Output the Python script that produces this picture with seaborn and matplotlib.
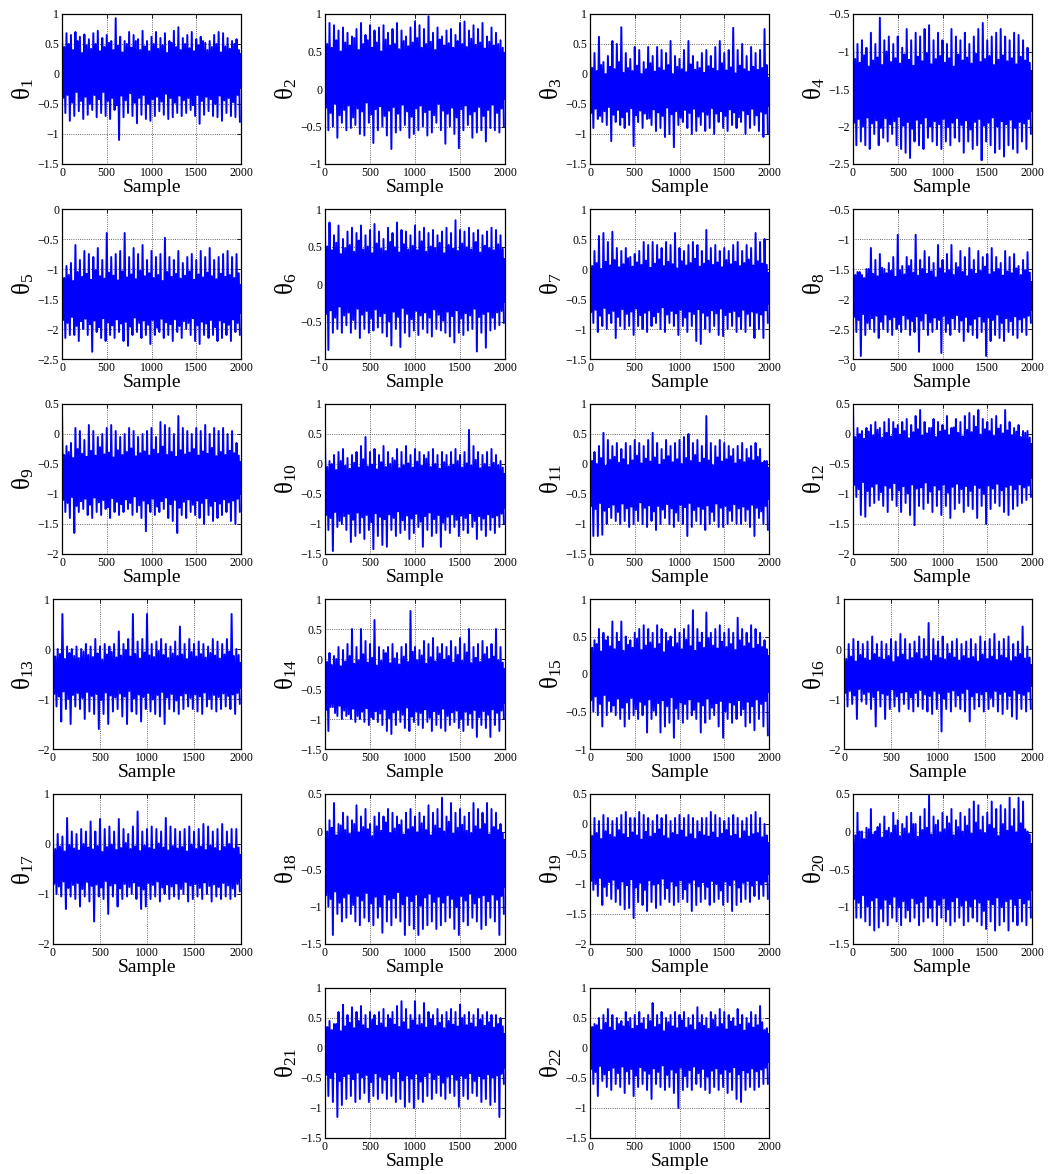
import numpy as np
import pandas as pd
import matplotlib
matplotlib.use("Agg")
import matplotlib.pyplot as plt
import seaborn as sns
from matplotlib.ticker import MultipleLocator, FuncFormatter

# Per 50-sample window of each MCMC trace, read (approximately) from the picture:
# hi = tallest upward spike, mh = secondary upward spike,
# ml = secondary downward spike, lo = deepest downward spike.
hi1 = [0.75,0.68,0.65,0.70,0.62,0.66,0.58,0.68,0.72,0.60,0.65,0.55,0.93,0.62,0.55,0.70,0.65,0.58,0.72,0.55,0.62,0.70,0.60,0.68,0.55,0.72,0.78,0.60,0.65,0.70,0.58,0.62,0.52,0.55,0.65,0.70,0.68,0.60,0.55,0.58]
lo1 = [-0.65,-0.78,-0.70,-0.62,-0.75,-0.68,-0.60,-0.72,-0.65,-0.70,-0.75,-0.60,-1.10,-0.72,-0.65,-0.70,-0.82,-0.68,-0.75,-0.78,-0.70,-0.62,-0.68,-0.75,-0.72,-0.65,-0.70,-0.65,-0.60,-0.70,-0.83,-0.68,-0.62,-0.70,-0.72,-0.78,-0.65,-0.70,-0.72,-0.80]
mh1 = [0.45,0.50,0.40,0.55,0.35,0.48,0.42,0.50,0.38,0.45,0.52,0.40,0.47,0.36,0.50,0.44,0.55,0.40,0.46,0.38,0.50,0.42,0.48,0.35,0.52,0.45,0.40,0.50,0.43,0.38,0.48,0.55,0.40,0.45,0.50,0.36,0.46,0.42,0.50,0.40]
ml1 = [-0.40,-0.35,-0.48,-0.30,-0.45,-0.38,-0.50,-0.35,-0.42,-0.30,-0.45,-0.40,-0.52,-0.36,-0.44,-0.32,-0.48,-0.40,-0.35,-0.50,-0.42,-0.38,-0.46,-0.33,-0.40,-0.48,-0.36,-0.44,-0.40,-0.52,-0.35,-0.45,-0.38,-0.42,-0.50,-0.36,-0.44,-0.40,-0.47,-0.35]
hi2 = [0.80,0.88,0.85,0.78,0.82,0.75,0.70,0.80,0.88,0.72,0.85,0.78,0.82,0.85,0.75,0.80,0.88,0.78,0.70,0.82,0.90,0.85,0.80,0.97,0.75,0.82,0.70,0.78,0.80,0.72,0.88,0.90,0.78,0.85,0.80,0.88,0.70,0.82,0.75,0.65]
lo2 = [-0.55,-0.50,-0.65,-0.45,-0.55,-0.52,-0.48,-0.60,-0.62,-0.45,-0.72,-0.55,-0.50,-0.62,-0.80,-0.58,-0.55,-0.48,-0.65,-0.60,-0.55,-0.50,-0.62,-0.58,-0.45,-0.55,-0.73,-0.50,-0.60,-0.79,-0.55,-0.48,-0.65,-0.58,-0.55,-0.70,-0.52,-0.55,-0.58,-0.50]
mh2 = [0.60,0.55,0.65,0.50,0.62,0.58,0.68,0.52,0.60,0.65,0.55,0.62,0.50,0.66,0.58,0.60,0.53,0.64,0.57,0.62,0.68,0.55,0.60,0.63,0.52,0.66,0.58,0.61,0.55,0.64,0.60,0.56,0.67,0.59,0.62,0.54,0.63,0.58,0.60,0.55]
ml2 = [-0.25,-0.32,-0.20,-0.35,-0.28,-0.22,-0.38,-0.26,-0.30,-0.18,-0.34,-0.27,-0.23,-0.36,-0.29,-0.24,-0.33,-0.21,-0.30,-0.37,-0.26,-0.22,-0.31,-0.28,-0.35,-0.20,-0.29,-0.33,-0.25,-0.38,-0.27,-0.22,-0.34,-0.30,-0.24,-0.36,-0.28,-0.21,-0.32,-0.26]
hi3 = [0.50,0.35,0.62,0.20,0.30,0.55,0.50,0.78,0.35,0.25,0.45,0.40,0.20,0.45,0.30,0.45,0.40,0.35,0.55,0.30,0.25,0.40,0.55,0.30,0.20,0.35,0.40,0.30,0.45,0.55,0.35,0.40,0.77,0.40,0.50,0.30,0.45,0.35,0.40,0.75]
lo3 = [-0.90,-0.75,-0.80,-0.85,-1.12,-0.80,-0.85,-0.90,-0.85,-1.20,-0.80,-0.90,-0.75,-0.85,-0.95,-0.90,-1.05,-1.00,-1.22,-0.85,-0.80,-0.90,-1.00,-0.95,-0.85,-0.95,-0.90,-1.00,-0.80,-0.90,-0.95,-0.85,-0.90,-0.80,-1.00,-0.90,-0.85,-0.95,-1.05,-1.00]
mh3 = [0.10,0.05,0.15,0.00,0.12,0.08,0.20,0.02,0.10,0.05,0.14,0.00,0.08,0.18,0.04,0.10,0.06,0.15,0.00,0.12,0.08,0.03,0.16,0.07,0.10,0.02,0.13,0.09,0.05,0.18,0.06,0.11,0.01,0.14,0.08,0.04,0.12,0.07,0.10,0.15]
ml3 = [-0.65,-0.58,-0.70,-0.62,-0.55,-0.68,-0.60,-0.72,-0.63,-0.57,-0.69,-0.61,-0.66,-0.74,-0.59,-0.64,-0.70,-0.56,-0.67,-0.62,-0.73,-0.60,-0.65,-0.58,-0.71,-0.63,-0.68,-0.57,-0.66,-0.62,-0.70,-0.59,-0.64,-0.72,-0.61,-0.67,-0.58,-0.69,-0.63,-0.66]
hi4 = [-0.78,-0.90,-0.85,-0.95,-0.75,-0.90,-0.55,-0.85,-0.80,-0.90,-0.80,-0.95,-0.70,-0.85,-0.75,-0.80,-0.70,-0.65,-0.85,-0.75,-0.85,-0.90,-0.70,-0.80,-0.85,-0.75,-0.90,-0.80,-0.70,-0.62,-0.85,-0.80,-0.75,-0.70,-0.80,-0.85,-0.75,-0.78,-0.85,-0.95]
lo4 = [-2.25,-2.20,-2.25,-2.30,-2.10,-2.25,-2.15,-2.20,-2.10,-2.25,-2.30,-2.35,-2.42,-2.20,-2.25,-2.30,-2.15,-2.20,-2.25,-2.30,-2.20,-2.25,-2.15,-2.20,-2.35,-2.20,-2.30,-2.25,-2.45,-2.20,-2.25,-2.35,-2.30,-2.40,-2.25,-2.30,-2.35,-2.20,-2.30,-2.10]
mh4 = [-1.10,-1.15,-1.05,-1.20,-1.12,-1.08,-1.18,-1.00,-1.14,-1.09,-1.16,-1.04,-1.11,-1.19,-1.07,-1.13,-1.02,-1.17,-1.10,-1.06,-1.15,-1.09,-1.20,-1.04,-1.12,-1.08,-1.16,-1.03,-1.14,-1.10,-1.06,-1.18,-1.11,-1.05,-1.13,-1.09,-1.17,-1.07,-1.12,-1.15]
ml4 = [-1.95,-1.90,-2.00,-1.88,-1.96,-1.92,-2.02,-1.89,-1.97,-1.93,-1.87,-1.99,-1.94,-2.03,-1.91,-1.96,-1.88,-2.00,-1.93,-1.97,-1.90,-2.01,-1.95,-1.89,-1.98,-1.92,-2.04,-1.94,-1.90,-1.99,-1.95,-1.88,-2.00,-1.93,-1.97,-1.91,-2.02,-1.94,-1.96,-1.90]
hi5 = [-1.05,-0.95,-0.90,-0.60,-0.85,-0.70,-0.75,-0.80,-0.65,-0.85,-0.40,-0.80,-0.75,-0.70,-0.40,-0.80,-0.65,-0.75,-0.60,-0.85,-0.70,-0.80,-0.75,-0.48,-0.80,-0.85,-0.70,-0.90,-0.80,-0.75,-0.85,-0.70,-0.80,-0.65,-0.85,-0.80,-0.75,-0.70,-0.80,-0.75]
lo5 = [-2.15,-2.10,-2.10,-2.20,-2.00,-2.10,-2.38,-2.05,-2.15,-2.20,-2.10,-2.15,-2.05,-2.20,-2.28,-2.10,-2.05,-2.15,-2.10,-2.25,-2.10,-2.05,-2.15,-2.10,-2.20,-2.05,-2.15,-2.00,-2.10,-2.20,-2.25,-2.10,-2.15,-2.10,-2.20,-2.15,-2.10,-2.20,-2.05,-2.10]
mh5 = [-1.15,-1.10,-1.20,-1.05,-1.13,-1.08,-1.18,-1.02,-1.12,-1.16,-1.06,-1.11,-1.19,-1.04,-1.14,-1.09,-1.17,-1.03,-1.12,-1.07,-1.15,-1.10,-1.20,-1.05,-1.13,-1.08,-1.16,-1.11,-1.04,-1.18,-1.09,-1.14,-1.06,-1.12,-1.17,-1.08,-1.13,-1.10,-1.15,-1.07]
ml5 = [-1.85,-1.90,-1.80,-1.95,-1.87,-1.83,-1.92,-1.86,-1.97,-1.82,-1.89,-1.94,-1.84,-1.91,-1.88,-1.96,-1.81,-1.90,-1.86,-1.93,-1.85,-1.98,-1.83,-1.89,-1.92,-1.84,-1.95,-1.87,-1.90,-1.82,-1.94,-1.88,-1.91,-1.85,-1.97,-1.86,-1.89,-1.93,-1.84,-1.90]
hi6 = [0.70,0.82,0.65,0.78,0.60,0.70,0.75,0.68,0.78,0.65,0.72,0.80,0.70,0.60,0.75,0.68,0.82,0.72,0.70,0.65,0.78,0.70,0.75,0.68,0.72,0.65,0.70,0.75,0.68,0.85,0.72,0.70,0.75,0.68,0.72,0.65,0.70,0.75,0.72,0.65]
lo6 = [-0.88,-0.65,-0.60,-0.65,-0.55,-0.65,-0.60,-0.72,-0.60,-0.65,-0.62,-0.58,-0.65,-0.70,-0.82,-0.60,-0.84,-0.65,-0.70,-0.62,-0.68,-0.60,-0.65,-0.70,-0.60,-0.62,-0.65,-0.70,-0.78,-0.65,-0.68,-0.62,-0.60,-0.90,-0.65,-0.85,-0.62,-0.60,-0.55,-0.52]
mh6 = [0.50,0.45,0.55,0.40,0.48,0.52,0.43,0.58,0.46,0.50,0.41,0.54,0.47,0.44,0.56,0.49,0.42,0.53,0.46,0.51,0.45,0.57,0.43,0.50,0.48,0.55,0.41,0.52,0.47,0.44,0.54,0.49,0.46,0.56,0.42,0.51,0.48,0.45,0.53,0.47]
ml6 = [-0.40,-0.35,-0.45,-0.30,-0.42,-0.38,-0.48,-0.33,-0.41,-0.36,-0.46,-0.34,-0.43,-0.39,-0.50,-0.37,-0.44,-0.32,-0.40,-0.47,-0.36,-0.42,-0.38,-0.45,-0.34,-0.41,-0.49,-0.37,-0.43,-0.35,-0.46,-0.39,-0.42,-0.33,-0.44,-0.40,-0.37,-0.45,-0.38,-0.36]
hi7 = [0.20,0.30,0.55,0.60,0.45,0.62,0.35,0.30,0.35,0.20,0.25,0.30,0.45,0.40,0.45,0.40,0.35,0.45,0.40,0.60,0.35,0.30,0.40,0.45,0.40,0.30,0.65,0.35,0.40,0.30,0.35,0.30,0.40,0.45,0.30,0.40,0.35,0.60,0.45,0.50]
lo7 = [-0.90,-1.05,-0.95,-1.00,-0.90,-1.15,-0.95,-1.00,-0.95,-1.10,-0.95,-1.00,-1.05,-0.95,-0.90,-1.00,-1.05,-0.90,-0.95,-1.10,-0.95,-1.05,-0.95,-1.20,-1.25,-1.00,-1.05,-0.95,-1.10,-1.12,-1.00,-0.95,-1.05,-1.00,-1.05,-0.95,-1.15,-1.00,-1.15,-0.90]
mh7 = [0.05,0.10,0.00,0.12,0.06,0.15,0.03,0.08,0.18,0.04,0.11,0.07,0.14,0.02,0.09,0.16,0.05,0.12,0.08,0.01,0.13,0.06,0.10,0.17,0.04,0.09,0.14,0.07,0.11,0.03,0.15,0.08,0.12,0.05,0.10,0.16,0.06,0.13,0.09,0.07]
ml7 = [-0.72,-0.68,-0.78,-0.65,-0.74,-0.70,-0.80,-0.67,-0.75,-0.71,-0.66,-0.77,-0.73,-0.69,-0.79,-0.72,-0.64,-0.76,-0.70,-0.74,-0.68,-0.81,-0.71,-0.75,-0.67,-0.73,-0.78,-0.69,-0.74,-0.66,-0.77,-0.72,-0.70,-0.79,-0.68,-0.75,-0.71,-0.73,-0.76,-0.69]
hi8 = [-1.40,-1.55,-1.60,-1.50,-1.15,-1.35,-1.25,-1.50,-1.40,-1.30,-0.93,-1.45,-1.30,-1.35,-0.93,-1.35,-1.20,-1.30,-1.40,-1.10,-1.35,-1.25,-1.10,-1.40,-1.20,-1.30,-1.15,-1.35,-1.20,-1.30,-1.25,-1.15,-1.30,-1.40,-1.20,-1.30,-1.25,-1.45,-1.35,-1.22]
lo8 = [-2.55,-2.95,-2.60,-2.50,-2.55,-2.65,-2.50,-2.55,-2.60,-2.50,-2.55,-2.50,-2.60,-2.55,-2.88,-2.50,-2.60,-2.55,-2.50,-2.90,-2.55,-2.60,-2.50,-2.55,-2.70,-2.55,-2.60,-2.65,-2.55,-2.95,-2.70,-2.60,-2.65,-2.70,-2.55,-2.60,-2.65,-2.55,-2.60,-2.40]
mh8 = [-1.60,-1.55,-1.65,-1.50,-1.58,-1.62,-1.48,-1.57,-1.53,-1.63,-1.52,-1.59,-1.45,-1.56,-1.61,-1.50,-1.58,-1.54,-1.64,-1.49,-1.57,-1.52,-1.60,-1.47,-1.55,-1.62,-1.51,-1.58,-1.53,-1.46,-1.59,-1.55,-1.50,-1.61,-1.54,-1.57,-1.49,-1.60,-1.52,-1.56]
ml8 = [-2.30,-2.35,-2.25,-2.40,-2.32,-2.28,-2.38,-2.26,-2.34,-2.30,-2.42,-2.27,-2.33,-2.37,-2.29,-2.36,-2.24,-2.39,-2.31,-2.35,-2.28,-2.41,-2.32,-2.27,-2.36,-2.30,-2.43,-2.33,-2.29,-2.38,-2.31,-2.35,-2.26,-2.40,-2.32,-2.37,-2.29,-2.34,-2.31,-2.28]
hi9 = [0.38,-0.20,-0.15,0.10,0.05,-0.10,0.15,0.05,-0.05,0.00,0.10,0.15,0.05,-0.05,0.00,0.10,0.05,-0.05,0.00,0.05,0.10,-0.05,0.20,0.15,0.10,0.00,0.30,0.10,0.05,0.00,0.10,0.05,0.15,0.00,0.10,0.05,0.10,0.00,0.05,-0.15]
lo9 = [-1.30,-1.40,-1.65,-1.30,-1.25,-1.35,-1.40,-1.30,-1.35,-1.25,-1.40,-1.30,-1.35,-1.30,-1.25,-1.35,-1.30,-1.40,-1.62,-1.30,-1.35,-1.30,-1.25,-1.40,-1.45,-1.65,-1.35,-1.40,-1.30,-1.35,-1.40,-1.50,-1.35,-1.45,-1.40,-1.35,-1.30,-1.45,-1.50,-1.30]
mh9 = [-0.35,-0.30,-0.40,-0.25,-0.33,-0.38,-0.28,-0.36,-0.22,-0.34,-0.31,-0.39,-0.27,-0.35,-0.30,-0.24,-0.37,-0.32,-0.29,-0.36,-0.26,-0.33,-0.21,-0.35,-0.30,-0.38,-0.27,-0.34,-0.31,-0.25,-0.36,-0.29,-0.33,-0.23,-0.37,-0.30,-0.35,-0.28,-0.32,-0.36]
ml9 = [-1.10,-1.15,-1.05,-1.20,-1.12,-1.08,-1.18,-1.06,-1.14,-1.10,-1.22,-1.07,-1.13,-1.17,-1.09,-1.15,-1.04,-1.19,-1.11,-1.16,-1.08,-1.21,-1.12,-1.06,-1.17,-1.10,-1.23,-1.13,-1.09,-1.18,-1.11,-1.15,-1.07,-1.20,-1.12,-1.16,-1.09,-1.14,-1.11,-1.08]
hi10 = [0.40,0.05,0.15,0.20,0.25,0.10,0.15,0.20,0.30,0.45,0.20,0.25,0.15,0.30,0.20,0.10,0.25,0.20,0.30,0.15,0.25,0.20,0.15,0.20,0.25,0.15,0.20,0.15,0.20,0.25,0.15,0.20,0.57,0.30,0.20,0.15,0.20,0.25,0.15,0.05]
lo10 = [-1.10,-1.45,-1.05,-1.00,-1.10,-1.30,-1.20,-1.15,-1.25,-1.10,-1.42,-1.20,-1.35,-1.38,-1.10,-1.20,-1.15,-1.10,-1.25,-1.15,-1.05,-1.38,-1.10,-1.20,-1.15,-1.38,-1.10,-1.15,-1.05,-1.20,-1.10,-1.15,-1.05,-1.25,-1.10,-1.20,-1.10,-1.15,-1.05,-1.00]
mh10 = [-0.05,0.00,-0.10,0.05,-0.03,-0.08,0.02,-0.06,0.08,-0.04,-0.01,-0.09,0.03,-0.05,0.00,0.06,-0.07,-0.02,0.01,-0.06,0.04,-0.03,0.09,-0.05,0.00,-0.08,0.03,-0.04,-0.01,0.05,-0.06,0.01,-0.03,0.07,-0.07,0.00,-0.05,0.02,-0.02,-0.06]
ml10 = [-0.85,-0.90,-0.80,-0.95,-0.87,-0.83,-0.93,-0.81,-0.89,-0.85,-0.97,-0.82,-0.88,-0.92,-0.84,-0.90,-0.79,-0.94,-0.86,-0.91,-0.83,-0.96,-0.87,-0.81,-0.92,-0.85,-0.98,-0.88,-0.84,-0.93,-0.86,-0.90,-0.82,-0.95,-0.87,-0.91,-0.84,-0.89,-0.86,-0.83]
hi11 = [0.25,0.20,0.30,0.52,0.40,0.30,0.35,0.25,0.35,0.30,0.40,0.35,0.30,0.40,0.52,0.35,0.25,0.40,0.30,0.35,0.40,0.45,0.50,0.35,0.40,0.30,0.80,0.35,0.30,0.40,0.35,0.30,0.25,0.30,0.35,0.25,0.30,0.35,0.25,0.05]
lo11 = [-1.20,-1.20,-1.18,-1.00,-0.90,-0.95,-1.00,-0.95,-1.05,-1.00,-0.95,-1.00,-1.05,-0.95,-1.10,-1.00,-0.90,-1.00,-1.05,-0.95,-1.00,-1.20,-1.05,-0.95,-1.00,-1.10,-1.00,-0.95,-1.05,-1.05,-1.00,-0.95,-1.00,-1.00,-0.95,-1.05,-1.20,-0.90,-1.00,-1.10]
mh11 = [0.05,0.00,0.10,-0.03,0.07,0.12,0.02,0.08,-0.02,0.06,0.14,0.01,0.09,0.04,0.11,-0.01,0.07,0.13,0.03,0.08,0.00,0.10,0.05,0.15,0.02,0.09,0.06,-0.02,0.11,0.04,0.08,0.13,0.01,0.07,0.03,0.10,0.06,0.12,0.02,0.05]
ml11 = [-0.70,-0.75,-0.65,-0.78,-0.72,-0.68,-0.80,-0.66,-0.74,-0.71,-0.77,-0.64,-0.73,-0.69,-0.79,-0.70,-0.76,-0.67,-0.74,-0.81,-0.68,-0.72,-0.65,-0.77,-0.71,-0.75,-0.69,-0.80,-0.66,-0.73,-0.70,-0.78,-0.67,-0.74,-0.71,-0.76,-0.68,-0.73,-0.79,-0.70]
hi12 = [0.48,0.10,0.05,0.10,0.15,0.20,0.10,0.20,0.25,0.20,0.15,0.20,0.25,0.15,0.30,0.40,0.20,0.10,0.25,0.20,0.15,0.30,0.10,0.25,0.20,0.30,0.35,0.30,0.40,0.25,0.20,0.25,0.30,0.15,0.40,0.20,0.10,0.15,0.05,0.05]
lo12 = [-1.05,-1.35,-1.38,-1.20,-1.15,-1.10,-1.20,-1.30,-1.10,-1.20,-1.30,-1.15,-1.35,-1.52,-1.20,-1.25,-1.15,-1.30,-1.20,-1.35,-1.20,-1.40,-1.25,-1.15,-1.30,-1.20,-1.25,-1.40,-1.20,-1.50,-1.25,-1.15,-1.20,-1.30,-1.35,-1.25,-1.20,-1.15,-1.10,-1.05]
mh12 = [-0.05,0.00,-0.08,0.04,-0.02,0.07,-0.06,0.02,-0.04,0.09,-0.01,0.05,-0.07,0.03,0.08,-0.03,0.01,0.10,-0.05,0.04,0.06,-0.02,0.11,0.02,-0.04,0.07,0.03,0.12,-0.01,0.08,0.05,-0.03,0.09,0.01,0.06,-0.02,0.04,-0.05,0.02,-0.06]
ml12 = [-0.85,-0.92,-0.80,-0.95,-0.88,-0.83,-0.97,-0.86,-0.90,-0.82,-0.94,-0.87,-0.99,-0.84,-0.91,-0.89,-0.81,-0.96,-0.86,-0.93,-0.84,-0.98,-0.88,-0.83,-0.92,-0.87,-0.95,-0.85,-0.90,-1.00,-0.86,-0.91,-0.83,-0.94,-0.88,-0.85,-0.92,-0.84,-0.89,-0.86]
hi13 = [0.22,0.00,0.70,0.05,0.00,0.05,0.00,0.10,0.05,0.20,0.05,0.10,0.05,0.10,0.35,0.10,0.20,0.70,0.15,0.20,0.70,0.10,0.15,0.20,0.10,0.05,0.15,0.45,0.10,0.20,0.10,0.15,0.10,0.05,0.20,0.15,0.10,0.20,0.70,0.00]
lo13 = [-1.15,-1.45,-1.20,-1.50,-1.15,-1.20,-1.40,-1.25,-1.30,-1.60,-1.30,-1.50,-1.25,-1.20,-1.35,-1.50,-1.25,-1.30,-1.45,-1.20,-1.25,-1.30,-1.35,-1.50,-1.20,-1.25,-1.30,-1.20,-1.15,-1.20,-1.25,-1.30,-1.15,-1.20,-1.25,-1.20,-1.15,-1.20,-1.30,-1.10]
mh13 = [-0.15,-0.10,-0.20,-0.08,-0.14,-0.18,-0.05,-0.12,-0.16,-0.09,-0.21,-0.11,-0.06,-0.17,-0.13,-0.02,-0.15,-0.10,-0.19,-0.07,-0.13,-0.16,-0.04,-0.12,-0.18,-0.09,-0.14,-0.11,-0.20,-0.06,-0.15,-0.10,-0.17,-0.08,-0.13,-0.19,-0.11,-0.05,-0.14,-0.12]
ml13 = [-0.90,-0.95,-0.85,-1.00,-0.92,-0.88,-0.98,-0.86,-0.94,-0.90,-1.02,-0.87,-0.93,-0.97,-0.89,-0.95,-0.84,-0.99,-0.91,-0.96,-0.88,-1.01,-0.92,-0.86,-0.97,-0.90,-1.03,-0.93,-0.89,-0.98,-0.91,-0.95,-0.87,-1.00,-0.92,-0.96,-0.89,-0.94,-0.91,-0.88]
hi14 = [0.10,0.10,0.05,0.20,0.15,0.25,0.50,0.20,0.50,0.30,0.25,0.65,0.20,0.15,0.20,0.25,0.10,0.20,0.25,0.80,0.20,0.15,0.30,0.25,0.35,0.20,0.25,0.20,0.30,0.20,0.35,0.25,0.50,0.20,0.25,0.30,0.20,0.25,0.50,0.20]
lo14 = [-1.20,-0.80,-0.95,-1.00,-0.95,-1.00,-1.05,-1.00,-1.05,-1.10,-1.00,-1.05,-1.10,-1.20,-1.25,-1.10,-1.05,-1.15,-1.20,-1.05,-1.10,-1.15,-1.05,-1.20,-1.10,-1.15,-1.20,-1.10,-1.05,-1.15,-1.20,-1.10,-1.15,-1.30,-1.10,-1.15,-1.30,-1.10,-1.20,-1.00]
mh14 = [-0.05,-0.10,0.00,-0.12,-0.04,0.05,-0.08,-0.02,0.08,-0.06,0.02,-0.11,-0.03,0.10,-0.07,0.01,-0.09,0.04,-0.05,0.12,-0.02,0.06,-0.08,0.03,-0.04,0.09,-0.01,0.05,-0.06,0.07,-0.03,0.11,-0.07,0.02,-0.05,0.08,0.00,0.04,-0.02,-0.06]
ml14 = [-0.85,-0.80,-0.90,-0.78,-0.86,-0.92,-0.83,-0.95,-0.88,-0.82,-0.97,-0.87,-0.91,-0.84,-0.99,-0.89,-0.85,-0.93,-0.81,-0.96,-0.88,-0.90,-0.84,-0.98,-0.87,-0.92,-0.83,-0.95,-0.89,-0.86,-1.00,-0.88,-0.91,-0.85,-0.97,-0.87,-0.93,-0.84,-0.90,-0.86]
hi15 = [0.55,0.45,0.60,0.55,0.50,0.70,0.55,0.70,0.50,0.45,0.55,0.60,0.65,0.60,0.55,0.65,0.60,0.55,0.50,0.60,0.55,0.60,0.65,0.85,0.60,0.55,0.82,0.55,0.60,0.65,0.55,0.60,0.55,0.75,0.60,0.55,0.65,0.60,0.55,0.45]
lo15 = [-0.50,-0.55,-0.70,-0.55,-0.50,-0.55,-0.60,-0.70,-0.60,-0.55,-0.60,-0.55,-0.78,-0.60,-0.55,-0.78,-0.70,-0.65,-0.85,-0.60,-0.65,-0.60,-0.55,-0.60,-0.78,-0.65,-0.60,-0.55,-0.70,-0.85,-0.60,-0.65,-0.60,-0.55,-0.70,-0.65,-0.75,-0.60,-0.70,-0.82]
mh15 = [0.35,0.40,0.30,0.45,0.37,0.33,0.43,0.31,0.39,0.35,0.47,0.32,0.38,0.42,0.34,0.40,0.29,0.44,0.36,0.41,0.33,0.46,0.37,0.31,0.42,0.35,0.48,0.38,0.34,0.43,0.36,0.40,0.32,0.45,0.37,0.41,0.34,0.39,0.36,0.33]
ml15 = [-0.35,-0.30,-0.40,-0.28,-0.36,-0.42,-0.33,-0.45,-0.38,-0.32,-0.47,-0.37,-0.41,-0.34,-0.49,-0.39,-0.35,-0.43,-0.31,-0.46,-0.38,-0.40,-0.34,-0.48,-0.37,-0.42,-0.33,-0.45,-0.39,-0.36,-0.50,-0.38,-0.41,-0.35,-0.47,-0.37,-0.43,-0.34,-0.40,-0.36]
hi16 = [-0.05,0.10,0.20,0.15,0.10,0.15,0.25,0.10,0.15,0.10,0.20,0.15,0.30,0.20,0.10,0.15,0.25,0.20,0.52,0.20,0.15,0.25,0.10,0.15,0.20,0.10,0.15,0.20,0.10,0.25,0.15,0.20,0.30,0.15,0.20,0.25,0.10,0.15,0.45,0.05]
lo16 = [-1.15,-1.10,-1.40,-1.05,-1.10,-1.20,-1.55,-1.15,-1.40,-1.20,-1.15,-1.25,-1.10,-1.20,-1.25,-1.15,-1.20,-1.25,-1.30,-1.20,-1.65,-1.20,-1.25,-1.15,-1.20,-1.25,-1.45,-1.20,-1.15,-1.25,-1.20,-1.15,-1.25,-1.30,-1.20,-1.35,-1.40,-1.20,-1.25,-1.20]
mh16 = [-0.20,-0.15,-0.25,-0.12,-0.19,-0.23,-0.10,-0.17,-0.21,-0.14,-0.26,-0.16,-0.11,-0.22,-0.18,-0.08,-0.20,-0.15,-0.24,-0.13,-0.18,-0.21,-0.09,-0.17,-0.23,-0.14,-0.19,-0.16,-0.25,-0.11,-0.20,-0.15,-0.22,-0.13,-0.18,-0.24,-0.16,-0.10,-0.19,-0.17]
ml16 = [-0.88,-0.84,-0.93,-0.80,-0.90,-0.86,-0.96,-0.83,-0.89,-0.92,-0.81,-0.95,-0.87,-0.85,-0.97,-0.88,-0.82,-0.91,-0.94,-0.84,-0.89,-0.99,-0.86,-0.83,-0.93,-0.88,-0.80,-0.95,-0.87,-0.91,-0.85,-0.98,-0.84,-0.90,-0.86,-0.94,-0.82,-0.89,-0.92,-0.85]
hi17 = [0.05,0.20,0.15,0.52,0.25,0.20,0.30,0.25,0.45,0.25,0.50,0.30,0.35,0.25,0.50,0.30,0.20,0.35,0.65,0.25,0.30,0.35,0.30,0.25,0.52,0.35,0.30,0.25,0.30,0.35,0.25,0.30,0.40,0.35,0.25,0.30,0.40,0.25,0.30,0.30]
lo17 = [-1.00,-1.05,-1.30,-1.05,-1.10,-1.25,-1.05,-1.15,-1.55,-1.05,-1.10,-1.40,-1.05,-1.25,-1.10,-1.05,-1.00,-1.10,-1.30,-1.25,-1.10,-1.05,-1.15,-1.00,-1.10,-1.05,-1.10,-1.00,-1.15,-1.10,-1.05,-1.10,-1.00,-1.15,-1.05,-1.10,-1.05,-1.10,-1.05,-0.95]
mh17 = [-0.10,-0.05,-0.15,-0.02,-0.09,-0.13,0.00,-0.07,-0.11,-0.04,-0.16,-0.06,-0.01,-0.12,-0.08,0.02,-0.10,-0.05,-0.14,-0.03,-0.08,-0.11,0.01,-0.07,-0.13,-0.04,-0.09,-0.06,-0.15,-0.01,-0.10,-0.05,-0.12,-0.03,-0.08,-0.14,-0.06,0.00,-0.09,-0.07]
ml17 = [-0.80,-0.85,-0.75,-0.88,-0.82,-0.78,-0.90,-0.76,-0.84,-0.81,-0.87,-0.74,-0.83,-0.79,-0.89,-0.80,-0.86,-0.77,-0.84,-0.91,-0.78,-0.82,-0.75,-0.87,-0.81,-0.85,-0.79,-0.90,-0.76,-0.83,-0.80,-0.88,-0.77,-0.84,-0.81,-0.86,-0.78,-0.83,-0.89,-0.80]
hi18 = [0.20,0.15,0.38,0.10,0.25,0.20,0.15,0.35,0.20,0.30,0.10,0.20,0.25,0.20,0.30,0.25,0.20,0.15,0.25,0.30,0.20,0.25,0.20,0.35,0.25,0.30,0.45,0.20,0.38,0.25,0.30,0.20,0.25,0.38,0.30,0.25,0.38,0.30,0.25,0.10]
lo18 = [-1.00,-1.38,-1.10,-1.20,-1.15,-1.10,-1.20,-1.25,-1.15,-1.20,-1.25,-1.15,-1.35,-1.20,-1.25,-1.15,-1.20,-1.38,-1.25,-1.30,-1.38,-1.30,-1.25,-1.20,-1.30,-1.25,-1.20,-1.15,-1.30,-1.38,-1.20,-1.25,-1.15,-1.20,-1.30,-1.25,-1.15,-1.20,-1.38,-1.10]
mh18 = [0.00,0.05,-0.05,0.08,0.02,-0.03,0.10,-0.01,0.06,0.03,-0.06,0.07,0.01,0.12,-0.02,0.04,0.09,-0.04,0.03,0.06,-0.01,0.11,0.02,-0.05,0.08,0.04,0.00,0.13,-0.03,0.05,0.09,0.01,-0.02,0.07,0.03,0.10,-0.04,0.06,0.02,-0.02]
ml18 = [-0.85,-0.90,-0.80,-0.95,-0.88,-0.83,-0.98,-0.86,-0.92,-0.82,-0.96,-0.87,-1.00,-0.84,-0.91,-0.89,-0.81,-0.97,-0.86,-0.93,-0.84,-0.99,-0.88,-0.83,-0.94,-0.87,-0.95,-0.85,-0.90,-1.01,-0.86,-0.92,-0.83,-0.96,-0.88,-0.85,-0.93,-0.84,-0.91,-0.86]
hi19 = [0.20,0.10,0.05,0.15,0.10,0.05,0.10,0.15,0.20,0.10,0.10,0.20,0.15,0.10,0.05,0.15,0.10,0.15,0.05,0.10,0.15,0.10,0.15,0.10,0.05,0.10,0.10,0.20,0.15,0.10,0.05,0.10,0.15,0.10,0.05,0.10,0.15,0.20,0.10,0.00]
lo19 = [-1.10,-1.20,-1.35,-1.20,-1.25,-1.30,-1.35,-1.42,-1.40,-1.57,-1.30,-1.35,-1.45,-1.30,-1.40,-1.35,-1.25,-1.30,-1.35,-1.30,-1.25,-1.30,-1.45,-1.35,-1.30,-1.25,-1.35,-1.30,-1.25,-1.35,-1.30,-1.45,-1.35,-1.30,-1.25,-1.30,-1.20,-1.25,-1.20,-1.25]
mh19 = [-0.20,-0.15,-0.25,-0.12,-0.18,-0.22,-0.10,-0.17,-0.23,-0.14,-0.19,-0.26,-0.13,-0.21,-0.16,-0.09,-0.20,-0.24,-0.15,-0.18,-0.11,-0.22,-0.17,-0.25,-0.13,-0.19,-0.21,-0.14,-0.23,-0.16,-0.10,-0.20,-0.18,-0.24,-0.12,-0.21,-0.17,-0.15,-0.22,-0.19]
ml19 = [-0.95,-1.00,-0.90,-1.05,-0.97,-0.93,-1.08,-0.96,-1.02,-0.92,-1.06,-0.98,-1.10,-0.94,-1.01,-0.99,-0.91,-1.07,-0.96,-1.03,-0.94,-1.09,-0.98,-0.93,-1.04,-0.97,-1.05,-0.95,-1.00,-1.11,-0.96,-1.02,-0.93,-1.06,-0.98,-0.95,-1.03,-0.94,-1.01,-0.96]
hi20 = [-0.10,0.25,0.00,0.05,0.30,0.00,0.10,0.20,0.05,0.25,0.15,0.10,0.20,0.25,0.10,0.20,0.30,0.48,0.20,0.15,0.25,0.20,0.30,0.15,0.25,0.20,0.30,0.40,0.35,0.20,0.25,0.40,0.30,0.35,0.30,0.45,0.30,0.45,0.40,0.00]
lo20 = [-1.15,-1.15,-1.20,-1.25,-1.32,-1.28,-1.20,-1.25,-1.15,-1.20,-1.25,-1.15,-1.20,-1.15,-1.25,-1.20,-1.15,-1.20,-1.25,-1.15,-1.20,-1.25,-1.20,-1.15,-1.25,-1.20,-1.15,-1.20,-1.25,-1.30,-1.20,-1.32,-1.25,-1.20,-1.32,-1.20,-1.25,-1.20,-1.25,-1.15]
mh20 = [-0.05,0.00,-0.10,0.03,-0.04,0.06,-0.08,0.01,-0.02,0.08,-0.06,0.04,-0.03,0.10,-0.07,0.02,0.05,-0.04,0.09,-0.01,0.03,0.11,-0.05,0.06,0.00,0.08,-0.03,0.12,0.02,-0.02,0.09,0.04,-0.06,0.10,0.01,0.07,-0.01,0.11,0.03,-0.04]
ml20 = [-0.90,-0.95,-0.85,-1.00,-0.92,-0.88,-1.03,-0.91,-0.97,-0.87,-1.01,-0.93,-1.05,-0.89,-0.96,-0.94,-0.86,-1.02,-0.91,-0.98,-0.89,-1.04,-0.93,-0.88,-0.99,-0.92,-1.00,-0.90,-0.95,-1.06,-0.91,-0.97,-0.88,-1.01,-0.93,-0.90,-0.98,-0.89,-0.96,-0.91]
hi21 = [0.40,0.45,0.40,0.60,0.72,0.55,0.68,0.60,0.70,0.55,0.60,0.55,0.60,0.65,0.55,0.60,0.70,0.78,0.65,0.55,0.78,0.55,0.75,0.60,0.55,0.65,0.55,0.60,0.65,0.60,0.72,0.55,0.60,0.55,0.65,0.55,0.60,0.55,0.55,0.50]
lo21 = [-0.80,-0.90,-1.15,-0.95,-0.85,-0.80,-0.90,-0.85,-0.75,-0.90,-0.80,-0.85,-0.75,-0.85,-0.80,-0.90,-0.85,-0.98,-0.90,-1.00,-0.85,-0.90,-0.80,-0.85,-0.75,-0.80,-0.85,-0.75,-0.80,-0.98,-0.80,-0.85,-0.75,-0.80,-0.90,-0.85,-0.95,-0.90,-1.15,-0.60]
mh21 = [0.35,0.30,0.40,0.28,0.36,0.42,0.33,0.45,0.38,0.32,0.47,0.37,0.41,0.34,0.49,0.39,0.35,0.43,0.31,0.46,0.38,0.40,0.34,0.48,0.37,0.42,0.33,0.45,0.39,0.36,0.50,0.38,0.41,0.35,0.47,0.37,0.43,0.34,0.40,0.36]
ml21 = [-0.45,-0.50,-0.40,-0.55,-0.47,-0.43,-0.52,-0.41,-0.49,-0.45,-0.57,-0.42,-0.48,-0.53,-0.44,-0.50,-0.39,-0.54,-0.46,-0.51,-0.43,-0.56,-0.47,-0.41,-0.52,-0.45,-0.58,-0.48,-0.44,-0.53,-0.46,-0.50,-0.42,-0.55,-0.47,-0.51,-0.44,-0.49,-0.46,-0.43]
hi22 = [0.45,0.40,0.50,0.55,0.65,0.55,0.50,0.45,0.60,0.50,0.55,0.60,0.50,0.55,0.75,0.55,0.60,0.50,0.55,0.60,0.55,0.60,0.50,0.55,0.68,0.55,0.50,0.60,0.55,0.65,0.60,0.55,0.50,0.65,0.55,0.50,0.60,0.55,0.70,0.30]
lo22 = [-0.60,-0.80,-0.55,-0.65,-0.70,-0.60,-0.65,-0.75,-0.60,-0.80,-0.65,-0.60,-0.70,-0.85,-0.60,-0.65,-0.70,-0.65,-0.75,-1.00,-0.70,-0.65,-0.70,-0.60,-0.65,-0.70,-0.75,-0.65,-0.70,-0.65,-0.75,-0.70,-0.85,-0.90,-0.70,-0.65,-0.70,-0.65,-0.60,-0.60]
mh22 = [0.35,0.38,0.30,0.42,0.34,0.29,0.40,0.36,0.44,0.32,0.37,0.41,0.31,0.45,0.35,0.39,0.28,0.43,0.36,0.33,0.46,0.34,0.38,0.30,0.42,0.37,0.32,0.47,0.35,0.40,0.31,0.44,0.36,0.39,0.29,0.41,0.34,0.38,0.43,0.33]
ml22 = [-0.35,-0.40,-0.30,-0.44,-0.37,-0.33,-0.42,-0.31,-0.39,-0.35,-0.46,-0.32,-0.38,-0.43,-0.34,-0.40,-0.29,-0.45,-0.36,-0.41,-0.33,-0.47,-0.37,-0.31,-0.42,-0.35,-0.48,-0.38,-0.34,-0.43,-0.36,-0.40,-0.32,-0.44,-0.37,-0.41,-0.34,-0.39,-0.36,-0.33]

highs = [hi1, hi2, hi3, hi4, hi5, hi6, hi7, hi8, hi9, hi10, hi11,
         hi12, hi13, hi14, hi15, hi16, hi17, hi18, hi19, hi20, hi21, hi22]
lows = [lo1, lo2, lo3, lo4, lo5, lo6, lo7, lo8, lo9, lo10, lo11,
        lo12, lo13, lo14, lo15, lo16, lo17, lo18, lo19, lo20, lo21, lo22]
mid_highs = [mh1, mh2, mh3, mh4, mh5, mh6, mh7, mh8, mh9, mh10, mh11,
             mh12, mh13, mh14, mh15, mh16, mh17, mh18, mh19, mh20, mh21, mh22]
mid_lows = [ml1, ml2, ml3, ml4, ml5, ml6, ml7, ml8, ml9, ml10, ml11,
            ml12, ml13, ml14, ml15, ml16, ml17, ml18, ml19, ml20, ml21, ml22]

# Innermost, fully solid part of each trace.
dense_lo = [-0.25, -0.15, -0.55, -1.80, -1.75, -0.25, -0.60, -2.20, -1.00, -0.75, -0.60,
            -0.75, -0.80, -0.75, -0.25, -0.75, -0.70, -0.75, -0.85, -0.80, -0.35, -0.25]
dense_hi = [0.35, 0.50, -0.05, -1.25, -1.25, 0.35, -0.05, -1.70, -0.45, -0.15, -0.05,
            -0.15, -0.25, -0.15, 0.25, -0.30, -0.20, -0.10, -0.30, -0.15, 0.25, 0.25]

y_limits = [(-1.5, 1), (-1, 1), (-1.5, 1), (-2.5, -0.5),
            (-2.5, 0), (-1, 1), (-1.5, 1), (-3, -0.5),
            (-2, 0.5), (-1.5, 1), (-1.5, 1), (-2, 0.5),
            (-2, 1), (-1.5, 1), (-1, 1), (-2, 1),
            (-2, 1), (-1.5, 0.5), (-2, 0.5), (-1.5, 0.5),
            (-1.5, 1), (-1.5, 1)]
y_steps = [0.5] * 22
y_steps[12] = 1
y_steps[15] = 1
y_steps[16] = 1
sample_max = 2000
window = 50

sns.set_theme(style="white")
plt.rcParams["font.family"] = ["Liberation Serif", "DejaVu Serif"]
plt.rcParams["mathtext.fontset"] = "custom"
plt.rcParams["mathtext.rm"] = "Liberation Serif"
plt.rcParams["mathtext.it"] = "Liberation Serif"
plt.rcParams["mathtext.bf"] = "Liberation Serif:bold"
plt.rcParams["axes.unicode_minus"] = True

W, H = 1048, 1174
fig = plt.figure(figsize=(W / 100, H / 100), dpi=100)
fig.patch.set_facecolor("white")

col_left = [62, 325, 590, 853]
col_right = [241, 505, 769, 1032]
row_top = [14, 209, 404, 599, 794, 988]
ax_h = 150
left_override = {12: 53, 16: 53, 15: 844}

slots = [(i // 4, i % 4) for i in range(20)] + [(5, 1), (5, 2)]


def fmt(v, pos):
    s = "%g" % round(v, 3)
    return s.replace("-", "\u2212")


for k, (r, c) in enumerate(slots):
    lft = left_override.get(k, col_left[c])
    rgt = col_right[c]
    top = row_top[r]
    ax = fig.add_axes([lft / W, 1 - (top + ax_h) / H, (rgt - lft) / W, ax_h / H])
    parts = [np.asarray(a, dtype=float) for a in
             (highs[k], mid_lows[k], mid_highs[k], lows[k])]
    n = min(len(p) for p in parts)
    vals = np.empty(4 * n)
    for j, p in enumerate(parts):
        vals[j::4] = p[:n]
    xs = np.arange(4 * n) * (window / 4)
    df = pd.DataFrame({"Sample": xs, "theta": vals})
    ax.fill_between([0, sample_max], dense_lo[k], dense_hi[k], color="#0000ff",
                    linewidth=0, zorder=2)
    sns.lineplot(data=df, x="Sample", y="theta", ax=ax, color="#0000ff",
                 linewidth=1.4, estimator=None, sort=False, legend=False,
                 zorder=3)
    ax.set_xlim(0, sample_max)
    ax.set_ylim(*y_limits[k])
    ax.xaxis.set_major_locator(MultipleLocator(500))
    ax.yaxis.set_major_locator(MultipleLocator(y_steps[k]))
    ax.xaxis.set_major_formatter(FuncFormatter(fmt))
    ax.yaxis.set_major_formatter(FuncFormatter(fmt))
    ax.set_axisbelow(True)
    ax.grid(True, color="black", linestyle=":", linewidth=0.6, alpha=0.8)
    ax.tick_params(direction="in", length=3, width=0.6, top=True, right=True,
                   labelsize=8.5, pad=2, colors="black")
    ax.set_xlabel("Sample", fontsize=14, labelpad=0, color="black")
    ax.set_ylabel(r"$\mathrm{\theta}_{\mathrm{%d}}$" % (k + 1), fontsize=18,
                  labelpad=1, color="black")
    for sp in ax.spines.values():
        sp.set_color("black")
        sp.set_linewidth(0.9)
        sp.set_zorder(5)
    ax.set_facecolor("white")

fig.savefig("out.png", dpi=100, facecolor="white")
